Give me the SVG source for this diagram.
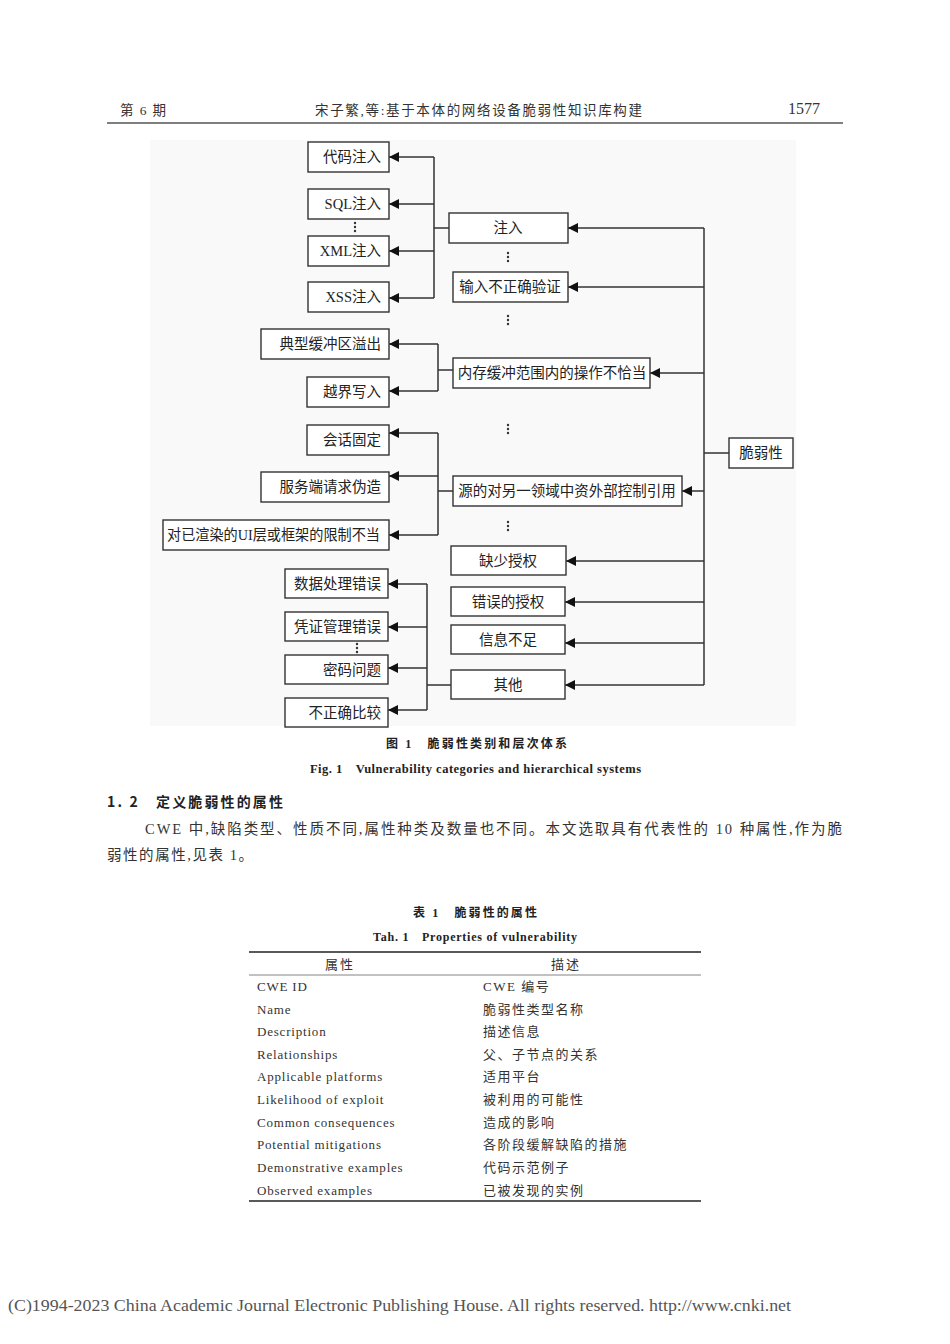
<svg xmlns="http://www.w3.org/2000/svg" width="950" height="1344" viewBox="0 0 950 1344">
<defs>
<marker id="arr" markerWidth="10" markerHeight="10" refX="10" refY="5" orient="auto" markerUnits="userSpaceOnUse">
<path d="M0,0 L10,5 L0,10 Z" fill="#111"/>
</marker>
<style>
.box{fill:#fff;stroke:#333;stroke-width:1.4}
.t{font-family:"Liberation Serif","Noto Sans CJK SC",serif;font-size:14.5px;fill:#222}
.c{text-anchor:middle}
.r{text-anchor:end}
.ln{fill:none;stroke:#333;stroke-width:1.5}
.ar{fill:none;stroke:#333;stroke-width:1.5;marker-end:url(#arr)}
.dot{fill:#333}
.hd{font-family:"Liberation Serif","Noto Sans CJK SC",serif;font-size:13.5px;fill:#333}
.cap{font-family:"Liberation Serif","Noto Sans CJK SC",serif;font-size:12px;font-weight:bold;fill:#222}
.body{font-family:"Liberation Serif","Noto Sans CJK SC",serif;font-size:14.5px;fill:#333}
.tb{font-family:"Liberation Serif","Noto Sans CJK SC",serif;font-size:13px;fill:#333}
</style>
</defs>
<rect width="950" height="1344" fill="#fff"/>

<!-- header -->
<text class="hd" x="120" y="115" textLength="46" lengthAdjust="spacing">第 6 期</text>
<text class="hd" x="315" y="115" textLength="327" lengthAdjust="spacing">宋子繁,等:基于本体的网络设备脆弱性知识库构建</text>
<text class="hd" x="820" y="114" text-anchor="end" style="font-size:16px">1577</text>
<line x1="107" y1="123" x2="843" y2="123" stroke="#555" stroke-width="1.3"/>

<!-- figure background -->
<rect x="150" y="140" width="646" height="586" fill="#f9f9f9"/>

<!-- connectors -->
<g id="connectors">
<path class="ln" d="M434,157 V298 M434,228 H449"/>
<path class="ar" d="M434,157 H389"/>
<path class="ar" d="M434,204 H389"/>
<path class="ar" d="M434,251 H389"/>
<path class="ar" d="M434,298 H389"/>

<path class="ln" d="M438,344 V391 M438,370 H453"/>
<path class="ar" d="M438,344 H389"/>
<path class="ar" d="M438,391 H389"/>

<path class="ln" d="M438,433 V535 M438,491 H453"/>
<path class="ar" d="M438,433 H389"/>
<path class="ar" d="M438,476 H389"/>
<path class="ar" d="M438,535 H389"/>

<path class="ln" d="M427,584 V710 M427,685 H451"/>
<path class="ar" d="M427,584 H388"/>
<path class="ar" d="M427,627 H388"/>
<path class="ar" d="M427,668 H388"/>
<path class="ar" d="M427,710 H388"/>

<path class="ln" d="M704,228 V685 M704,453 H729"/>
<path class="ar" d="M704,228 H568"/>
<path class="ar" d="M704,287 H568"/>
<path class="ar" d="M704,373 H650"/>
<path class="ar" d="M704,491 H682"/>
<path class="ar" d="M704,561 H566"/>
<path class="ar" d="M704,602 H565"/>
<path class="ar" d="M704,643 H565"/>
<path class="ar" d="M704,685 H565"/>
</g>

<!-- ellipsis dots -->
<g id="ellipses">
<circle class="dot" cx="355" cy="223" r="1.2"/><circle class="dot" cx="355" cy="227" r="1.2"/><circle class="dot" cx="355" cy="231" r="1.2"/>
<circle class="dot" cx="508" cy="253" r="1.2"/><circle class="dot" cx="508" cy="257" r="1.2"/><circle class="dot" cx="508" cy="261" r="1.2"/>
<circle class="dot" cx="508" cy="316" r="1.2"/><circle class="dot" cx="508" cy="320" r="1.2"/><circle class="dot" cx="508" cy="324" r="1.2"/>
<circle class="dot" cx="508" cy="425" r="1.2"/><circle class="dot" cx="508" cy="429" r="1.2"/><circle class="dot" cx="508" cy="433" r="1.2"/>
<circle class="dot" cx="508" cy="522" r="1.2"/><circle class="dot" cx="508" cy="526" r="1.2"/><circle class="dot" cx="508" cy="530" r="1.2"/>
<circle class="dot" cx="357" cy="644" r="1.2"/><circle class="dot" cx="357" cy="648" r="1.2"/><circle class="dot" cx="357" cy="652" r="1.2"/>
</g>

<!-- root -->
<g id="n-root"><rect class="box" x="729" y="438" width="64" height="30"/><text class="t c" x="761" y="458">脆弱性</text></g>

<!-- level 1 -->
<g id="n-inject"><rect class="box" x="449" y="213" width="119" height="30"/><text class="t c" x="508" y="233">注入</text></g>
<g id="n-input"><rect class="box" x="453" y="272" width="115" height="30"/><text class="t c" x="510" y="292">输入不正确验证</text></g>
<g id="n-memory"><rect class="box" x="453" y="358" width="197" height="30"/><text class="t c" x="552" y="378">内存缓冲范围内的操作不恰当</text></g>
<g id="n-extref"><rect class="box" x="453" y="476" width="229" height="30"/><text class="t c" x="567" y="496">源的对另一领域中资外部控制引用</text></g>
<g id="n-missauth"><rect class="box" x="451" y="546" width="115" height="29"/><text class="t c" x="508" y="566">缺少授权</text></g>
<g id="n-wrongauth"><rect class="box" x="451" y="587" width="114" height="29"/><text class="t c" x="508" y="607">错误的授权</text></g>
<g id="n-info"><rect class="box" x="451" y="625" width="114" height="29"/><text class="t c" x="508" y="645">信息不足</text></g>
<g id="n-other"><rect class="box" x="451" y="670" width="114" height="29"/><text class="t c" x="508" y="690">其他</text></g>

<!-- level 2 -->
<g id="n-code"><rect class="box" x="308" y="142" width="81" height="30"/><text class="t r" x="381" y="162">代码注入</text></g>
<g id="n-sql"><rect class="box" x="308" y="189" width="81" height="30"/><text class="t r" x="381" y="209">SQL注入</text></g>
<g id="n-xml"><rect class="box" x="308" y="236" width="81" height="30"/><text class="t r" x="381" y="256">XML注入</text></g>
<g id="n-xss"><rect class="box" x="308" y="282" width="81" height="30"/><text class="t r" x="381" y="302">XSS注入</text></g>
<g id="n-overflow"><rect class="box" x="261" y="329" width="128" height="30"/><text class="t r" x="381" y="349">典型缓冲区溢出</text></g>
<g id="n-oob"><rect class="box" x="307" y="377" width="82" height="30"/><text class="t r" x="381" y="397">越界写入</text></g>
<g id="n-session"><rect class="box" x="307" y="425" width="82" height="30"/><text class="t r" x="381" y="445">会话固定</text></g>
<g id="n-ssrf"><rect class="box" x="261" y="472" width="128" height="30"/><text class="t r" x="381" y="492">服务端请求伪造</text></g>
<g id="n-ui"><rect class="box" x="163" y="520" width="226" height="30"/><text class="t" x="167" y="540" textLength="213" lengthAdjust="spacingAndGlyphs">对已渲染的UI层或框架的限制不当</text></g>
<g id="n-data"><rect class="box" x="285" y="569" width="103" height="29"/><text class="t r" x="381" y="589">数据处理错误</text></g>
<g id="n-cred"><rect class="box" x="285" y="612" width="103" height="29"/><text class="t r" x="381" y="632">凭证管理错误</text></g>
<g id="n-crypto"><rect class="box" x="285" y="655" width="103" height="29"/><text class="t r" x="381" y="675">密码问题</text></g>
<g id="n-compare"><rect class="box" x="285" y="698" width="103" height="29"/><text class="t r" x="381" y="718">不正确比较</text></g>

<!-- captions -->
<text class="cap" x="386" y="748" textLength="181" lengthAdjust="spacing">图 1　脆弱性类别和层次体系</text>
<text class="cap" x="310" y="773" style="font-size:12.5px" textLength="331" lengthAdjust="spacing">Fig. 1　Vulnerability categories and hierarchical systems</text>

<text x="107" y="807" font-family="'Noto Sans CJK SC',sans-serif" font-size="14" font-weight="bold" fill="#222" textLength="176" lengthAdjust="spacing">1. 2　定义脆弱性的属性</text>
<text class="body" x="145" y="834" textLength="697" lengthAdjust="spacing">CWE 中,缺陷类型、性质不同,属性种类及数量也不同。本文选取具有代表性的 10 种属性,作为脆</text>
<text class="body" x="107" y="860" textLength="146" lengthAdjust="spacing">弱性的属性,见表 1。</text>

<!-- table -->
<text class="cap" x="413" y="917" textLength="124" lengthAdjust="spacing">表 1　脆弱性的属性</text>
<text class="cap" x="373" y="941" textLength="204" lengthAdjust="spacing">Tah. 1　Properties of vulnerability</text>
<line x1="249" y1="952" x2="701" y2="952" stroke="#222" stroke-width="1.6"/>
<line x1="249" y1="975" x2="701" y2="975" stroke="#777" stroke-width="0.9"/>
<line x1="249" y1="1201" x2="701" y2="1201" stroke="#222" stroke-width="1.6"/>
<g class="tb">
<text x="340" y="969" text-anchor="middle" letter-spacing="2">属性</text>
<text x="566" y="969" text-anchor="middle" letter-spacing="2">描述</text>
<text x="257" y="991" letter-spacing="0.8">CWE ID</text>
<text x="257" y="1014" letter-spacing="0.8">Name</text>
<text x="257" y="1036" letter-spacing="0.8">Description</text>
<text x="257" y="1059" letter-spacing="0.8">Relationships</text>
<text x="257" y="1081" letter-spacing="0.8">Applicable platforms</text>
<text x="257" y="1104" letter-spacing="0.8">Likelihood of exploit</text>
<text x="257" y="1127" letter-spacing="0.8">Common consequences</text>
<text x="257" y="1149" letter-spacing="0.8">Potential mitigations</text>
<text x="257" y="1172" letter-spacing="0.8">Demonstrative examples</text>
<text x="257" y="1195" letter-spacing="0.8">Observed examples</text>
<text x="483" y="991" letter-spacing="1.5">CWE 编号</text>
<text x="483" y="1014" letter-spacing="1.5">脆弱性类型名称</text>
<text x="483" y="1036" letter-spacing="1.5">描述信息</text>
<text x="483" y="1059" letter-spacing="1.5">父、子节点的关系</text>
<text x="483" y="1081" letter-spacing="1.5">适用平台</text>
<text x="483" y="1104" letter-spacing="1.5">被利用的可能性</text>
<text x="483" y="1127" letter-spacing="1.5">造成的影响</text>
<text x="483" y="1149" letter-spacing="1.5">各阶段缓解缺陷的措施</text>
<text x="483" y="1172" letter-spacing="1.5">代码示范例子</text>
<text x="483" y="1195" letter-spacing="1.5">已被发现的实例</text>
</g>

<!-- footer -->
<text x="8" y="1311" font-family="'Liberation Serif',serif" font-size="16" fill="#555" textLength="783" lengthAdjust="spacingAndGlyphs">(C)1994-2023 China Academic Journal Electronic Publishing House. All rights reserved.    http://www.cnki.net</text>
</svg>
